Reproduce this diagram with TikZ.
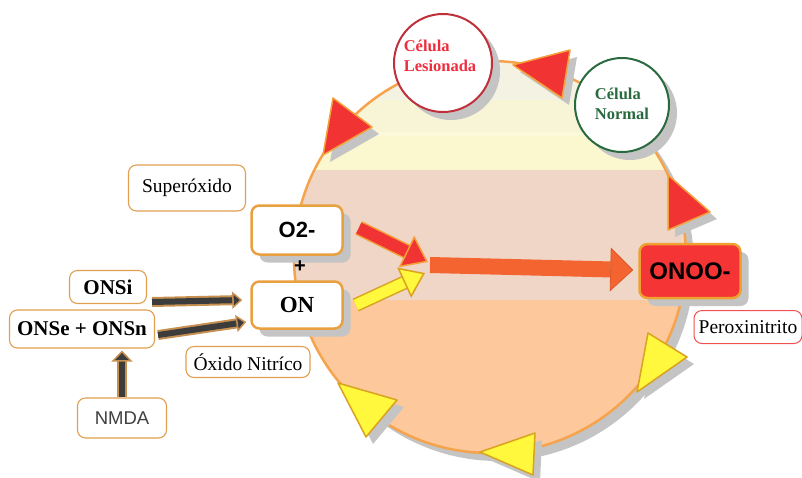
\documentclass[tikz,border=0pt]{standalone}
\usepackage{fontspec}
\setmainfont{Liberation Serif}
\newfontfamily\arialf{Liberation Sans}
\usetikzlibrary{shadows,arrows.meta,calc}
\definecolor{boxor}{HTML}{E0A050}
\definecolor{thickor}{HTML}{E8A040}
\definecolor{shadowgray}{HTML}{C4C4C4}
\definecolor{bandA}{HTML}{F4F2E2}
\definecolor{bandB}{HTML}{F8F5D6}
\definecolor{bandC}{HTML}{FBF7CE}
\definecolor{pinkb}{HTML}{EFD6C6}
\definecolor{peach}{HTML}{FDC99C}
\definecolor{circor}{HTML}{F6A34E}
\definecolor{redtri}{HTML}{F23333}
\definecolor{redtrib}{HTML}{F5A03A}
\definecolor{yeltri}{HTML}{FFF83C}
\definecolor{yeltrib}{HTML}{D9A21F}
\definecolor{lesred}{HTML}{EE2E3E}
\definecolor{lesborder}{HTML}{C0303A}
\definecolor{normgreen}{HTML}{2A6A3F}
\definecolor{onoored}{HTML}{F53535}
\definecolor{onoob}{HTML}{F0A030}
\definecolor{perborder}{HTML}{F05050}
\definecolor{bigarr}{HTML}{F36430}
\definecolor{darkarr}{HTML}{3C3C3C}
\definecolor{glow}{HTML}{C89050}
\definecolor{nmdatext}{HTML}{404040}
\begin{document}
\begin{tikzpicture}[x=1pt,y=-1pt,
  tbox/.style={draw=boxor, line width=1.1pt, rounded corners=8pt, fill=white, inner sep=0pt},
  thickbox/.style={draw=thickor, line width=2.5pt, rounded corners=8pt, fill=white, inner sep=0pt,
     drop shadow={shadow xshift=8pt, shadow yshift=-8pt, fill=shadowgray, opacity=1}},
  cell/.style={circle, line width=2pt, fill=white, inner sep=0pt,
     drop shadow={shadow xshift=8pt, shadow yshift=-8pt, fill=shadowgray, opacity=1}},
  serif20/.style={font=\fontsize{19.5}{22}\selectfont},
  serifb21/.style={font=\bfseries\fontsize{21}{24}\selectfont},
  redtriangle/.style={fill=redtri, draw=redtrib, line width=1.5pt, line join=round},
  yeltriangle/.style={fill=yeltri, draw=yeltrib, line width=1.5pt, line join=round},
  trishadow/.style={fill=shadowgray}
]
\useasboundingbox (0,0) rectangle (802,477);

% ---- big circle
\fill[shadowgray] (498,265) circle (196pt);
\begin{scope}
  \clip (490,257) circle (196pt);
  \fill[bandA] (280,50) rectangle (700,100);
  \fill[bandB] (280,100) rectangle (700,132);
  \fill[white!25!bandC] (280,132) rectangle (700,136);
  \fill[bandC] (280,136) rectangle (700,170);
  \fill[pinkb] (280,170) rectangle (700,300);
  \fill[peach] (280,300) rectangle (700,470);
\end{scope}
\draw[circor, line width=2.5pt] (490,257) circle (196pt);

% ---- triangle shadows
\begin{scope}[shift={(7,7)}]
  \fill[trishadow] (513,65) -- (570,50) -- (562,98) -- cycle;
  \fill[trishadow] (333,98) -- (372,127) -- (323,155) -- cycle;
  \fill[trishadow] (668,175) -- (710,212) -- (668,230) -- cycle;
  \fill[trishadow] (648,333) -- (687,357) -- (637,392) -- cycle;
  \fill[trishadow] (338,383) -- (397,400) -- (366,437) -- cycle;
  \fill[trishadow] (480,452) -- (535,433) -- (533,475) -- cycle;
\end{scope}
% ---- triangles
\filldraw[redtriangle] (513,65) -- (570,50) -- (562,98) -- cycle;
\filldraw[redtriangle] (333,98) -- (372,127) -- (323,155) -- cycle;
\filldraw[redtriangle] (668,175) -- (710,212) -- (668,230) -- cycle;
\filldraw[yeltriangle] (648,333) -- (687,357) -- (637,392) -- cycle;
\filldraw[yeltriangle] (338,383) -- (397,400) -- (366,437) -- cycle;
\filldraw[yeltriangle] (480,452) -- (535,433) -- (533,475) -- cycle;

% ---- cells
\node[cell, draw=lesborder, minimum size=98pt] (les) at (443,63) {};
\node[font=\bfseries\fontsize{16.5}{20}\selectfont, text=lesred, align=left] (lestext) at (440,56) {Célula\\Lesionada};
\node[cell, draw=normgreen, minimum size=94pt] (norm) at (622,105) {};
\node[font=\bfseries\fontsize{16.5}{20}\selectfont, text=normgreen, align=left] (normtext) at (622,104) {Célula\\Normal};

% ---- text boxes
\node[tbox, serif20, minimum width=117pt, minimum height=46pt] (sup) at (187,188) {Superóxido};
\node[thickbox, font=\arialf\bfseries\fontsize{22}{24}\selectfont, minimum width=91pt, minimum height=49pt] (o2) at (297,230) {O2-};
\node[font=\arialf\bfseries\fontsize{20}{20}\selectfont] (plus) at (300,267) {+};
\node[thickbox, font=\bfseries\fontsize{23}{24}\selectfont, minimum width=91pt, minimum height=47pt] (on) at (297,305) {ON};
\node[tbox, serifb21, minimum width=77pt, minimum height=33pt] (onsi) at (108,287) {ONSi};
\node[tbox, serifb21, minimum width=145pt, minimum height=38pt] (onse) at (82,329) {ONSe + ONSn};
\node[tbox, serif20, minimum width=124pt, minimum height=31pt] (oxn) at (248,362) {Óxido Nitríco};
\node[tbox, font=\arialf\fontsize{18.5}{20}\selectfont, text=nmdatext, minimum width=89pt, minimum height=40pt] (nmda) at (122,418) {NMDA};
\node[thickbox, draw=onoob, fill=onoored, font=\arialf\bfseries\fontsize{24}{26}\selectfont, minimum width=101pt, minimum height=54pt] (onoo) at (690,271) {ONOO-};
\node[draw=perborder, line width=1pt, rounded corners=8pt, fill=white, serif20, minimum width=108pt, minimum height=33pt] (per) at (748,327) {Peroxinitrito};

% ---- meeting point
\coordinate (mix) at (430,265);

% ---- gray arrows
\draw[glow, line width=10pt, shorten >=8pt] ($(onsi.east)+(5,15)$) -- ($(on.west)+(-8,-5)$);
\draw[darkarr, line width=6pt, -{Triangle[length=10pt,width=17pt,fill=darkarr,color=glow,line width=1.5pt]}] ($(onsi.east)+(5,15)$) -- ($(on.west)+(-8,-5)$);
\draw[glow, line width=10pt, shorten >=8pt] ($(onse.east)+(3,6)$) -- ($(on.west)+(-4,17)$);
\draw[darkarr, line width=6pt, -{Triangle[length=10pt,width=17pt,fill=darkarr,color=glow,line width=1.5pt]}] ($(onse.east)+(3,6)$) -- ($(on.west)+(-4,17)$);
\draw[glow, line width=10pt, shorten >=9pt] (nmda.north) -- ($(nmda.north |- onse.south)+(0,2)$);
\draw[darkarr, line width=6pt, -{Triangle[length=11pt,width=21pt,fill=darkarr,color=glow,line width=1.5pt]}] (nmda.north) -- ($(nmda.north |- onse.south)+(0,2)$);

% ---- red and yellow arrows
\draw[redtrib, line width=15pt, shorten >=21pt] ($(o2.east)+(15,-2)$) -- ($(mix)+(-2,-3)$);
\draw[redtri, line width=12pt, -{Triangle[length=24pt,width=35pt,fill=redtri,color=redtrib,line width=1.5pt]}] ($(o2.east)+(15,-2)$) -- ($(mix)+(-2,-3)$);
\draw[yeltrib, line width=14pt, shorten >=21pt] ($(on.east)+(12,0)$) -- ($(mix)+(-5,8)$);
\draw[yeltri, line width=11pt, -{Triangle[length=23pt,width=33pt,fill=yeltri,color=yeltrib,line width=1.5pt]}] ($(on.east)+(12,0)$) -- ($(mix)+(-5,8)$);

% ---- big arrow
\draw[bigarr, line width=16pt, -{Triangle[length=23pt,width=44pt,fill=bigarr,color=bigarr!90!black,line width=0.8pt]}] (mix) -- ($(onoo.west)+(-5,-1)$);
\end{tikzpicture}
\end{document}
